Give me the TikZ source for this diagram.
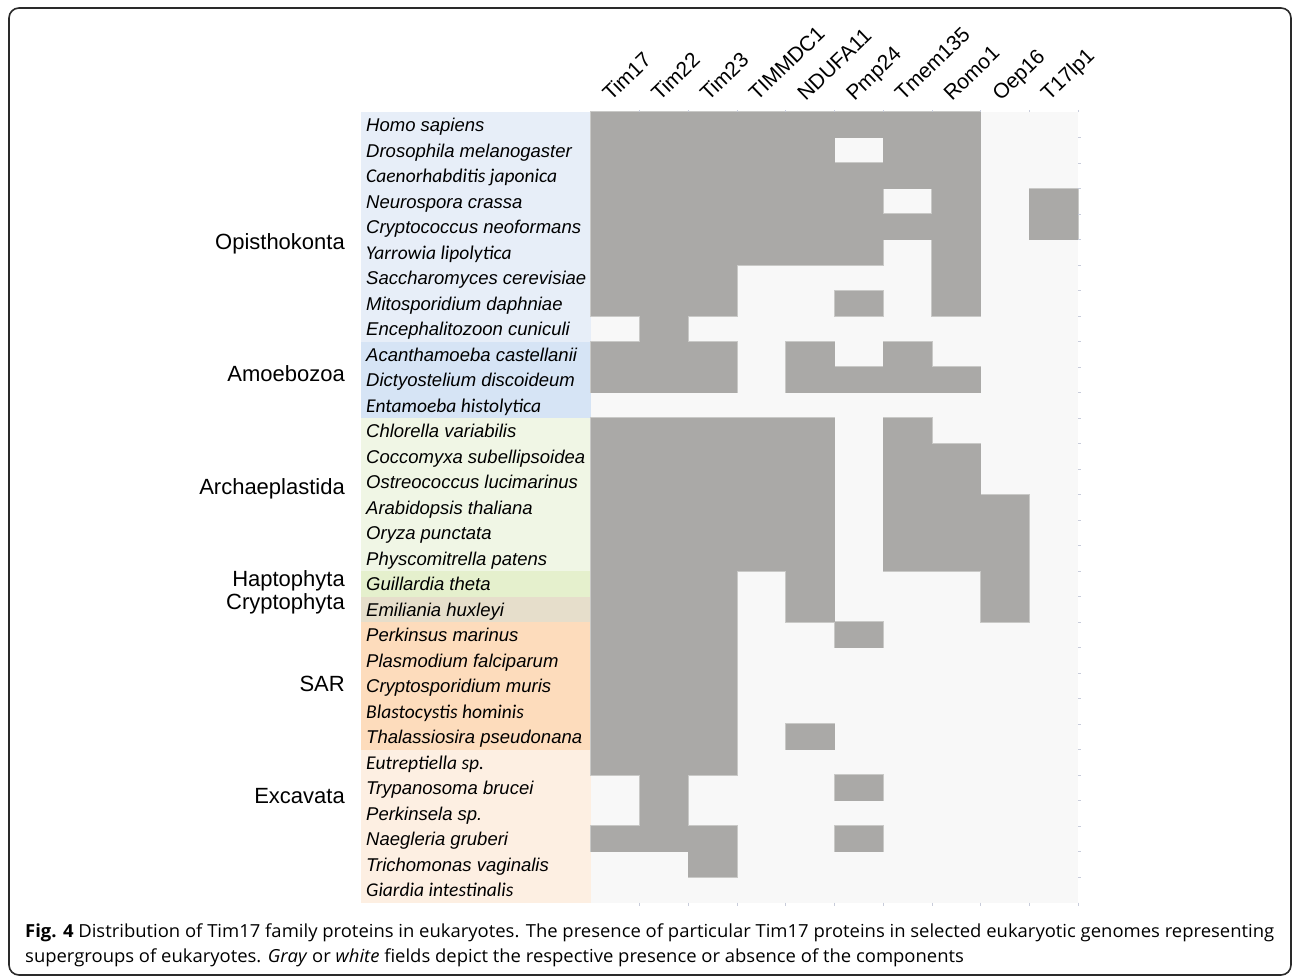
\documentclass[tikz,border=0pt]{standalone}
\usepackage{fontspec}
\usepackage{graphicx}
\setmainfont{Liberation Sans}
\newfontfamily\calfont{Carlito}
\newfontfamily\capfont{Open Sans}
\definecolor{cellgray}{HTML}{AAA9A7}
\definecolor{celledge}{HTML}{C9C9C7}
\definecolor{cellbg}{HTML}{F8F8F8}
\definecolor{tickc}{HTML}{C8CCDA}
\definecolor{opis}{HTML}{E7EEF8}
\definecolor{amoe}{HTML}{D6E4F5}
\definecolor{arch}{HTML}{F0F6E5}
\definecolor{guil}{HTML}{E5F0CD}
\definecolor{emil}{HTML}{E6DECB}
\definecolor{sar}{HTML}{FDDCBC}
\definecolor{exca}{HTML}{FDEFE2}
\definecolor{framec}{HTML}{2A2A2A}
\newsavebox\capboxA
\tikzset{
  species/.style={anchor=base west, inner sep=0pt, font=\fontsize{18.5}{22}\selectfont\itshape},
  speciesc/.style={anchor=base west, inner sep=0pt, font=\fontsize{19.5}{22}\selectfont\calfont\itshape},
  grouplab/.style={anchor=base east, inner sep=0pt, font=\fontsize{22}{24}\selectfont},
  colhead/.style={anchor=base west, inner sep=0pt, rotate=44, font=\fontsize{21}{24}\selectfont},
}
\begin{document}
\sbox\capboxA{\capfont\fontsize{18}{22}\selectfont\textbf{Fig. 4} Distribution of Tim17 family proteins in eukaryotes. The presence of particular Tim17 proteins in selected eukaryotic genomes representing}%
\pgfmathsetmacro\capsx{1249/\the\wd\capboxA}%
\begin{tikzpicture}[x=1pt,y=-1pt]
\useasboundingbox (0,0) rectangle (1292,977);
\fill[white] (0,0) rectangle (1292,977);
% frame
\draw[framec, line width=1.6pt, rounded corners=10pt] (9,8) rectangle (1291,975);
% grid background
\fill[cellbg] (591,112) rectangle (1078,902.5);
% label backgrounds
\fill[opis] (361,112) rectangle (591,{112+9*25.5});
\fill[amoe] (361,{112+9*25.5}) rectangle (591,{112+12*25.5});
\fill[arch] (361,{112+12*25.5}) rectangle (591,{112+18*25.5});
\fill[guil] (361,{112+18*25.5}) rectangle (591,{112+19*25.5});
\fill[emil] (361,{112+19*25.5}) rectangle (591,{112+20*25.5});
\fill[sar] (361,{112+20*25.5}) rectangle (591,{112+25*25.5});
\fill[exca] (361,{112+25*25.5}) rectangle (591,{112+31*25.5});
% presence cells
\def\celllist{1/{1,2,3,4,5,6,7,8}, 2/{1,2,3,4,5,7,8}, 3/{1,2,3,4,5,6,7,8},
 4/{1,2,3,4,5,6,8,10}, 5/{1,2,3,4,5,6,7,8,10}, 6/{1,2,3,4,5,6,8}, 7/{1,2,3,8},
 8/{1,2,3,6,8}, 9/{2}, 10/{1,2,3,5,7}, 11/{1,2,3,5,6,7,8},
 13/{1,2,3,4,5,7}, 14/{1,2,3,4,5,7,8}, 15/{1,2,3,4,5,7,8}, 16/{1,2,3,4,5,7,8,9},
 17/{1,2,3,4,5,7,8,9}, 18/{1,2,3,4,5,7,8,9}, 19/{1,2,3,5,9}, 20/{1,2,3,5,9},
 21/{1,2,3,6}, 22/{1,2,3}, 23/{1,2,3}, 24/{1,2,3}, 25/{1,2,3,5}, 26/{1,2,3},
 27/{2,6}, 28/{2}, 29/{1,2,3,6}, 30/{3}}
\foreach \r/\cs in \celllist {
  \foreach \c in \cs {
    \draw[celledge, line width=1.4pt] ({591+(\c-1)*48.7},{112+(\r-1)*25.5}) rectangle ++(48.7,25.5);
  }
}
\foreach \r/\cs in \celllist {
  \foreach \c in \cs {
    \fill[cellgray] ({591+(\c-1)*48.7},{112+(\r-1)*25.5}) rectangle ++(48.7,25.5);
  }
}
% faint ticks
\foreach \c in {1,...,10} {
  \draw[tickc, line width=0.8pt] ({591+\c*48.7},112) -- ++(0,-2);
  \draw[tickc, line width=0.8pt] ({591+\c*48.7},902.5) -- ++(0,3);
}
\foreach \r in {1,...,30} {
  \draw[tickc, line width=0.8pt] (1078,{112+\r*25.5}) -- ++(3,0);
}
% column headers
\foreach \c/\t in {1/Tim17, 2/Tim22, 3/Tim23, 4/TIMMDC1, 5/NDUFA11, 6/Pmp24, 7/Tmem135, 8/Romo1, 9/Oep16, 10/T17lp1} {
  \node[colhead] (h\c) at ({591+(\c-1)*48.7+20},102) {\t};
}
% species labels
\foreach \r/\t/\s in {1/Homo sapiens/species, 2/Drosophila melanogaster/species,
  3/Caenorhabditis japonica/speciesc, 4/Neurospora crassa/species,
  5/Cryptococcus neoformans/species, 6/Yarrowia lipolytica/speciesc,
  7/Saccharomyces cerevisiae/species, 8/Mitosporidium daphniae/species,
  9/Encephalitozoon cuniculi/species, 10/Acanthamoeba castellanii/species,
  11/Dictyostelium discoideum/species, 12/Entamoeba histolytica/speciesc,
  13/Chlorella variabilis/species, 14/Coccomyxa subellipsoidea/species,
  15/Ostreococcus lucimarinus/species, 16/Arabidopsis thaliana/species,
  17/Oryza punctata/species, 18/Physcomitrella patens/species,
  19/Guillardia theta/species, 20/Emiliania huxleyi/species,
  21/Perkinsus marinus/species, 22/Plasmodium falciparum/species,
  23/Cryptosporidium muris/species, 24/Blastocystis hominis/speciesc,
  25/Thalassiosira pseudonana/species, 26/Eutreptiella sp./speciesc,
  27/Trypanosoma brucei/species, 28/Perkinsela sp./species,
  29/Naegleria gruberi/species, 30/Trichomonas vaginalis/species,
  31/Giardia intestinalis/speciesc} {
  \node[\s] (sp\r) at (366,{112+(\r-1)*25.5+19.5}) {\t};
}
% group labels
\node[grouplab] (gOpis) at (345,249) {Opisthokonta};
\node[grouplab] (gAmoe) at (345,381) {Amoebozoa};
\node[grouplab] (gArch) at (345,494) {Archaeplastida};
\node[grouplab] (gHapt) at (345,586) {Haptophyta};
\node[grouplab] (gCryp) at (345,609) {Cryptophyta};
\node[grouplab] (gSAR) at (345,691) {SAR};
\node[grouplab] (gExca) at (345,803) {Excavata};
% caption
\node[anchor=base west, inner sep=0pt] (cap1) at (25,937) {\scalebox{\capsx}[1]{\usebox\capboxA}};
\node[anchor=base west, inner sep=0pt] (cap2) at (25,962) {\scalebox{\capsx}[1]{\capfont\fontsize{18}{22}\selectfont supergroups of eukaryotes. \textit{Gray} or \textit{white} fields depict the respective presence or absence of the components}};
\end{tikzpicture}
\end{document}
